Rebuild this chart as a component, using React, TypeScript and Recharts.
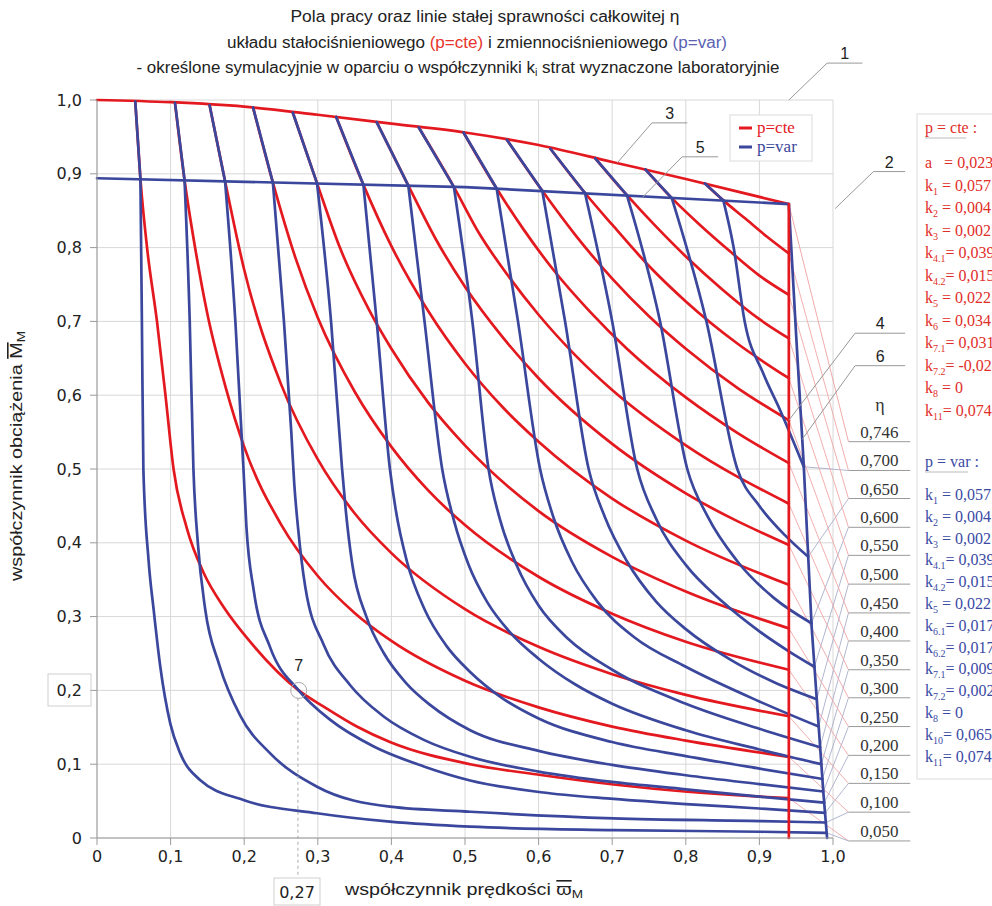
import React from 'react';
import { LineChart, Line, XAxis, YAxis, CartesianGrid, ReferenceLine, ReferenceDot } from 'recharts';

const W = 992;
const H = 906;
const RED = '#e3191f';
const BLUE = '#3a479c';
const SANS = "'Liberation Sans', Arial, sans-serif";
const TICKFONT = "'DejaVu Sans', Verdana, sans-serif";
const SERIF = "'Liberation Serif', 'Times New Roman', serif";

const axisTicks = [0, 0.1, 0.2, 0.3, 0.4, 0.5, 0.6, 0.7, 0.8, 0.9, 1];
const axisTickLabels = ['0', '0,1', '0,2', '0,3', '0,4', '0,5', '0,6', '0,7', '0,8', '0,9', '1,0'];

// efficiency labels on the right, top to bottom, and where their underline sits (in M units)
const etaLabels = ['0,746', '0,700', '0,650', '0,600', '0,550', '0,500', '0,450', '0,400', '0,350', '0,300', '0,250', '0,200', '0,150', '0,100', '0,050'];
const etaLabelPos = [0.537, 0.498, 0.46, 0.421, 0.383, 0.344, 0.305, 0.267, 0.228, 0.19, 0.151, 0.112, 0.074, 0.035, -0.004];

// boundaries of the working fields [omega, M]
const cteTop = [[0, 1.0], [0.1, 0.997], [0.2, 0.991], [0.3, 0.98], [0.4, 0.968], [0.5, 0.956], [0.6, 0.939], [0.7, 0.916], [0.8, 0.893], [0.94, 0.859]];
const cteRight = [[0.94, 0.859], [0.94, 0]];
const varTop = [[0, 0.894], [0.5, 0.882], [0.94, 0.859]];
const varRight = [[0.94, 0.859], [0.95, 0.68], [0.96, 0.51], [0.971, 0.286], [0.987, 0.06], [0.992, 0]];

// p=cte constant efficiency lines (0,05 ... 0,70)
const cte050 = [[0.052, 0.998], [0.059, 0.893], [0.068, 0.8], [0.0815, 0.7], [0.093, 0.6], [0.104, 0.5], [0.122, 0.42], [0.145, 0.359], [0.172, 0.313], [0.208, 0.266], [0.274, 0.2], [0.308, 0.178], [0.353, 0.151], [0.398, 0.13], [0.507, 0.1], [0.603, 0.0854], [0.702, 0.0725], [0.802, 0.0627], [0.901, 0.056], [0.94, 0.054]];
const cte100 = [[0.106, 0.996], [0.119, 0.891], [0.135, 0.79], [0.15, 0.71], [0.175, 0.61], [0.2, 0.53], [0.25, 0.425], [0.3, 0.355], [0.35, 0.305], [0.4, 0.267], [0.5, 0.213], [0.6, 0.177], [0.7, 0.151], [0.8, 0.132], [0.94, 0.11]];
const cte150 = [[0.153, 0.993], [0.174, 0.89], [0.2, 0.77], [0.25, 0.615], [0.3, 0.513], [0.35, 0.44], [0.4, 0.386], [0.5, 0.31], [0.6, 0.259], [0.7, 0.222], [0.8, 0.194], [0.94, 0.165]];
const cte200 = [[0.212, 0.99], [0.239, 0.888], [0.27, 0.785], [0.3, 0.705], [0.35, 0.605], [0.4, 0.53], [0.45, 0.471], [0.5, 0.424], [0.6, 0.354], [0.7, 0.304], [0.8, 0.266], [0.94, 0.228]];
const cte250 = [[0.266, 0.983], [0.299, 0.887], [0.33, 0.8], [0.37, 0.715], [0.4, 0.663], [0.45, 0.59], [0.5, 0.532], [0.6, 0.443], [0.7, 0.381], [0.8, 0.334], [0.94, 0.284]];
const cte300 = [[0.325, 0.977], [0.362, 0.885], [0.4, 0.802], [0.45, 0.714], [0.5, 0.643], [0.55, 0.585], [0.6, 0.537], [0.7, 0.46], [0.8, 0.403], [0.94, 0.343]];
const cte350 = [[0.38, 0.97], [0.423, 0.884], [0.46, 0.812], [0.5, 0.747], [0.55, 0.68], [0.6, 0.623], [0.7, 0.534], [0.8, 0.467], [0.94, 0.397]];
const cte400 = [[0.437, 0.963], [0.485, 0.882], [0.52, 0.818], [0.56, 0.76], [0.6, 0.709], [0.65, 0.654], [0.7, 0.607], [0.8, 0.532], [0.94, 0.453]];
const cte450 = [[0.498, 0.956], [0.543, 0.88], [0.58, 0.824], [0.62, 0.77], [0.67, 0.713], [0.72, 0.663], [0.8, 0.597], [0.87, 0.549], [0.94, 0.508]];
const cte500 = [[0.557, 0.946], [0.605, 0.877], [0.65, 0.817], [0.7, 0.758], [0.75, 0.707], [0.8, 0.663], [0.87, 0.61], [0.94, 0.566]];
const cte550 = [[0.616, 0.934], [0.663, 0.874], [0.7, 0.831], [0.75, 0.775], [0.8, 0.727], [0.87, 0.67], [0.94, 0.623]];
const cte600 = [[0.677, 0.921], [0.72, 0.871], [0.76, 0.828], [0.8, 0.788], [0.85, 0.743], [0.9, 0.703], [0.94, 0.677]];
const cte650 = [[0.745, 0.906], [0.781, 0.867], [0.82, 0.83], [0.86, 0.795], [0.9, 0.762], [0.94, 0.736]];
const cte700 = [[0.826, 0.887], [0.851, 0.864], [0.88, 0.84], [0.91, 0.815], [0.94, 0.792]];

// p=var constant efficiency lines (0,05 ... 0,70)
const var050 = [[0.052, 0.998], [0.059, 0.893], [0.061, 0.7], [0.063, 0.5], [0.07, 0.377], [0.077, 0.309], [0.086, 0.232], [0.0996, 0.155], [0.113, 0.115], [0.14, 0.0786], [0.199, 0.0515], [0.299, 0.0335], [0.398, 0.0221], [0.507, 0.0153], [0.702, 0.0108], [0.901, 0.0085], [0.9914, 0.007]];
const var100 = [[0.106, 0.996], [0.119, 0.891], [0.126, 0.7], [0.131, 0.5], [0.137, 0.4], [0.147, 0.31], [0.166, 0.235], [0.195, 0.165], [0.235, 0.115], [0.299, 0.0695], [0.398, 0.0424], [0.507, 0.0356], [0.702, 0.0267], [0.901, 0.023], [0.9903, 0.021]];
const var150 = [[0.153, 0.993], [0.174, 0.89], [0.188, 0.7], [0.199, 0.5], [0.203, 0.422], [0.213, 0.335], [0.235, 0.259], [0.274, 0.2], [0.317, 0.16], [0.376, 0.124], [0.444, 0.097], [0.507, 0.078], [0.603, 0.062], [0.702, 0.053], [0.8, 0.046], [0.9, 0.04], [0.9892, 0.034]];
const var200 = [[0.212, 0.99], [0.239, 0.888], [0.254, 0.7], [0.264, 0.55], [0.268, 0.48], [0.273, 0.422], [0.283, 0.34], [0.308, 0.262], [0.344, 0.207], [0.389, 0.165], [0.444, 0.133], [0.507, 0.11], [0.6, 0.09], [0.7, 0.076], [0.8, 0.066], [0.9, 0.056], [0.988, 0.048]];
const var250 = [[0.266, 0.983], [0.299, 0.887], [0.318, 0.7], [0.333, 0.5], [0.338, 0.444], [0.347, 0.37], [0.366, 0.3], [0.39, 0.25], [0.42, 0.21], [0.453, 0.18], [0.507, 0.146], [0.6, 0.118], [0.7, 0.099], [0.8, 0.085], [0.9, 0.073], [0.9868, 0.063]];
const var300 = [[0.325, 0.977], [0.362, 0.885], [0.38, 0.7], [0.398, 0.5], [0.406, 0.444], [0.421, 0.375], [0.445, 0.31], [0.475, 0.26], [0.507, 0.225], [0.55, 0.19], [0.6, 0.162], [0.7, 0.13], [0.8, 0.111], [0.9, 0.094], [0.9856, 0.08]];
const var350 = [[0.38, 0.97], [0.423, 0.884], [0.445, 0.7], [0.469, 0.5], [0.485, 0.43], [0.505, 0.37], [0.53, 0.32], [0.56, 0.28], [0.6, 0.243], [0.65, 0.208], [0.7, 0.182], [0.8, 0.146], [0.9, 0.12], [0.9842, 0.1]];
const var400 = [[0.437, 0.963], [0.485, 0.882], [0.51, 0.7], [0.532, 0.5], [0.548, 0.43], [0.57, 0.37], [0.6, 0.315], [0.64, 0.27], [0.7, 0.228], [0.8, 0.182], [0.9, 0.148], [0.9825, 0.123]];
const var450 = [[0.498, 0.956], [0.543, 0.88], [0.572, 0.7], [0.602, 0.5], [0.62, 0.435], [0.645, 0.375], [0.68, 0.32], [0.73, 0.272], [0.8, 0.232], [0.9, 0.185], [0.9806, 0.151]];
const var500 = [[0.557, 0.946], [0.605, 0.877], [0.636, 0.7], [0.668, 0.5], [0.69, 0.435], [0.72, 0.375], [0.76, 0.32], [0.8, 0.283], [0.86, 0.242], [0.92, 0.211], [0.9779, 0.188]];
const var550 = [[0.616, 0.934], [0.663, 0.874], [0.7, 0.7], [0.734, 0.5], [0.76, 0.432], [0.8, 0.37], [0.85, 0.32], [0.9, 0.28], [0.94, 0.253], [0.9748, 0.232]];
const var600 = [[0.677, 0.921], [0.72, 0.871], [0.765, 0.7], [0.802, 0.5], [0.83, 0.435], [0.87, 0.375], [0.92, 0.325], [0.9708, 0.291]];
const var650 = [[0.745, 0.906], [0.781, 0.867], [0.828, 0.7], [0.87, 0.5], [0.9, 0.45], [0.935, 0.41], [0.9663, 0.381]];
const var700 = [[0.826, 0.887], [0.851, 0.864], [0.865, 0.8], [0.88, 0.7], [0.905, 0.63], [0.928, 0.58], [0.9603, 0.503]];

const cteCurves = [cte050, cte100, cte150, cte200, cte250, cte300, cte350, cte400, cte450, cte500, cte550, cte600, cte650, cte700];
const varCurves = [var050, var100, var150, var200, var250, var300, var350, var400, var450, var500, var550, var600, var650, var700];

// numbered callouts: underline [x1, x2, y] and tip [x, y]
const callouts = [
  { n: '1', under: [0.992, 1.04, 1.05], tip: [0.94, 1.0] },
  { n: '2', under: [1.055, 1.098, 0.903], tip: [1.003, 0.853] },
  { n: '3', under: [0.754, 0.802, 0.969], tip: [0.707, 0.915] },
  { n: '5', under: [0.795, 0.844, 0.923], tip: [0.741, 0.868] },
  { n: '4', under: [1.03, 1.098, 0.684], tip: [0.94, 0.566] },
  { n: '6', under: [1.03, 1.098, 0.64], tip: [0.958, 0.54] },
];

// coefficient tables
const cteCoefNames = ['a', 'k|1', 'k|2', 'k|3', 'k|4.1', 'k|4.2', 'k|5', 'k|6', 'k|7.1', 'k|7.2', 'k|8', 'k|11'];
const cteCoefValues = ['0,023', '0,057', '0,004', '0,002', '0,039', '0,015', '0,022', '0,034', '0,031', '-0,02', '0', '0,074'];
const varCoefNames = ['k|1', 'k|2', 'k|3', 'k|4.1', 'k|4.2', 'k|5', 'k|6.1', 'k|6.2', 'k|7.1', 'k|7.2', 'k|8', 'k|10', 'k|11'];
const varCoefValues = ['0,057', '0,004', '0,002', '0,039', '0,015', '0,022', '0,017', '0,017', '0,009', '0,002', '0', '0,065', '0,074'];

const pts = (a: number[][]) => a.map(([x, y]) => ({ x, y }));
const fmt = (v: number) => axisTickLabels[Math.round(v * 10)] ?? '';

const curveLine = (d: number[][], color: string, key: string, type: 'monotone' | 'linear' = 'monotone') => (
  <Line
    key={key}
    data={pts(d)}
    dataKey="y"
    type={type}
    stroke={color}
    strokeWidth={2.7}
    strokeLinejoin="round"
    strokeLinecap="round"
    dot={false}
    activeDot={false}
    isAnimationActive={false}
  />
);

const coefRow = (name: string, value: string, x: number, y: number, color: string, key: string) => {
  const [base, sub] = name.split('|');
  return (
    <text key={key} x={x} y={y} fontFamily={SERIF} fontSize={16} fill={color} style={{ whiteSpace: 'pre' }}>
      {base}
      {sub ? <tspan fontSize={10} dy={4}>{sub}</tspan> : null}
      {sub ? <tspan dy={-4}>{sub.length > 1 ? '= ' + value : ' = ' + value}</tspan> : <tspan>{'   = ' + value}</tspan>}
    </text>
  );
};

export default function App() {
  const leaders = etaLabels.flatMap((lab, i) => {
    const pos = etaLabelPos[i];
    const out = [
      <ReferenceLine
        key={'u' + i}
        segment={[{ x: 1.021, y: pos }, { x: 1.105, y: pos }]}
        ifOverflow="visible"
        stroke="#9a9a9a"
        strokeWidth={1}
        label={{ value: lab, position: 'top', offset: 4, fill: '#333', fontSize: 17, fontFamily: SERIF }}
      />,
    ];
    if (i === 0) {
      const c = cteTop[cteTop.length - 1];
      out.push(<ReferenceLine key={'c' + i} segment={[{ x: 1.021, y: pos }, { x: c[0], y: c[1] }]} ifOverflow="visible" stroke="#f0a0a0" strokeWidth={0.9} />);
    } else {
      const idx = cteCurves.length - i;
      const rc = cteCurves[idx][cteCurves[idx].length - 1];
      const bc = varCurves[idx][varCurves[idx].length - 1];
      out.push(<ReferenceLine key={'r' + i} segment={[{ x: 1.021, y: pos }, { x: rc[0], y: rc[1] }]} ifOverflow="visible" stroke="#f2a6a6" strokeWidth={0.9} />);
      out.push(<ReferenceLine key={'b' + i} segment={[{ x: 1.021, y: pos }, { x: bc[0], y: bc[1] }]} ifOverflow="visible" stroke="#a9aecb" strokeWidth={0.9} />);
    }
    return out;
  });

  const calloutLines = callouts.flatMap((c) => [
    <ReferenceLine
      key={'cu' + c.n}
      segment={[{ x: c.under[0], y: c.under[2] }, { x: c.under[1], y: c.under[2] }]}
      ifOverflow="visible"
      stroke="#999"
      strokeWidth={1}
      label={{ value: c.n, position: 'top', offset: 4, fill: '#222', fontSize: 16, fontFamily: SANS }}
    />,
    <ReferenceLine
      key={'ct' + c.n}
      segment={[{ x: c.under[0], y: c.under[2] }, { x: c.tip[0], y: c.tip[1] }]}
      ifOverflow="visible"
      stroke="#999"
      strokeWidth={1}
    />,
  ]);

  return (
    <div style={{ position: 'absolute', left: 0, top: 0, width: W, height: H, background: '#fff', overflow: 'hidden' }}>
      <LineChart width={W} height={H} margin={{ top: 100, right: 159, bottom: 38, left: 37 }}>
        <CartesianGrid stroke="#d8d8d8" strokeWidth={1} />
        <XAxis
          type="number"
          dataKey="x"
          domain={[0, 1]}
          ticks={axisTicks}
          tickFormatter={fmt}
          height={30}
          tickSize={7}
          tickMargin={6}
          stroke="#9a9a9a"
          tick={{ fill: '#222', fontSize: 16, fontFamily: TICKFONT }}
        />
        <YAxis
          type="number"
          domain={[0, 1]}
          ticks={axisTicks}
          tickFormatter={fmt}
          width={60}
          tickSize={7}
          tickMargin={8}
          stroke="#9a9a9a"
          tick={{ fill: '#222', fontSize: 16, fontFamily: TICKFONT }}
        />
        {leaders}
        {cteCurves.map((c, i) => curveLine(c, RED, 'cte' + i))}
        {curveLine(cteTop, RED, 'cteTop')}
        {varCurves.map((c, i) => curveLine(c.slice(0, 2), BLUE, 'varA' + i, 'linear'))}
        {varCurves.map((c, i) => curveLine(c.slice(1), BLUE, 'varB' + i))}
        {curveLine(varTop, BLUE, 'varTop', 'linear')}
        {curveLine(varRight, BLUE, 'varRight', 'linear')}
        {curveLine(cteRight, RED, 'cteRight', 'linear')}
        {calloutLines}
        <ReferenceLine
          segment={[{ x: 0.273, y: 0.19 }, { x: 0.273, y: -0.054 }]}
          ifOverflow="visible"
          stroke="#aaa"
          strokeDasharray="3 3"
          strokeWidth={1}
        />
        <ReferenceDot
          x={0.274}
          y={0.2}
          r={8}
          fill="none"
          stroke="#aaa"
          strokeWidth={1}
          ifOverflow="visible"
          label={{ value: '7', position: 'top', offset: 11, fill: '#222', fontSize: 16, fontFamily: SANS }}
        />
      </LineChart>

      <svg width={W} height={H} style={{ position: 'absolute', left: 0, top: 0, pointerEvents: 'none' }}>
        <g fontFamily={SANS} fontSize={16} fill="#222" style={{ whiteSpace: 'pre' }}>
          <text x={485} y={22} textAnchor="middle" textLength={389} lengthAdjust="spacingAndGlyphs">Pola pracy oraz linie stałej sprawności całkowitej η</text>
          <text x={477} y={48} textAnchor="middle" textLength={500} lengthAdjust="spacingAndGlyphs">
            {'układu stałociśnieniowego '}
            <tspan fill="#e8342c">(p=cte)</tspan>
            {' i  zmiennociśnieniowego '}
            <tspan fill="#5b62b3">(p=var)</tspan>
          </text>
          <text x={458} y={73} textAnchor="middle" textLength={643} lengthAdjust="spacingAndGlyphs">
            {'- określone symulacyjnie w oparciu o współczynniki k'}
            <tspan fontSize={10} dy={3}>i</tspan>
            <tspan dy={-3}>{' strat wyznaczone laboratoryjnie'}</tspan>
          </text>
          <text x={22} y={456} fontSize={16} textAnchor="middle" transform="rotate(-90 22 456)" textLength={250} lengthAdjust="spacingAndGlyphs">
            {'współczynnik obciążenia '}
            <tspan style={{ textDecoration: 'overline' }}>M</tspan>
            <tspan fontSize={11} dy={3}>M</tspan>
          </text>
          <text x={345} y={895} fontSize={16} textLength={238} lengthAdjust="spacingAndGlyphs">
            {'współczynnik prędkości '}
            <tspan style={{ textDecoration: 'overline' }}>ϖ</tspan>
            <tspan fontSize={11} dy={3}>M</tspan>
          </text>
          <rect x={48} y={674} width={43} height={32} fill="none" stroke="#cfcfcf" />
          <rect x={274} y={878} width={46} height={27} fill="#fff" stroke="#cfcfcf" />
          <text x={297} y={898} textAnchor="middle" fontFamily={TICKFONT} fontSize={16}>0,27</text>
        </g>

        <text x={880} y={411} textAnchor="middle" fontFamily={SERIF} fontSize={18} fill="#333">η</text>

        <g>
          <rect x={730} y={115} width={82} height={46} fill="#fff" stroke="#dcdcdc" />
          <line x1={739} x2={752} y1={128} y2={128} stroke={RED} strokeWidth={3} />
          <text x={757} y={133} fontFamily={SERIF} fontSize={17} fill={RED}>p=cte</text>
          <line x1={739} x2={752} y1={147} y2={147} stroke={BLUE} strokeWidth={3} />
          <text x={757} y={152} fontFamily={SERIF} fontSize={17} fill={BLUE}>p=var</text>
        </g>

        <g>
          <rect x={917} y={114} width={90} height={665} fill="#fff" stroke="#dcdcdc" />
          <text x={925} y={133} fontFamily={SERIF} fontSize={16} fill="#df2e28" style={{ whiteSpace: 'pre' }}>p = cte :</text>
          <line x1={925} x2={966} y1={138} y2={138} stroke="#bbb" strokeWidth={1} />
          {cteCoefNames.map((n, i) => coefRow(n, cteCoefValues[i], 925, 168 + 22.5 * i, '#df2e28', 'cc' + i))}
          <text x={925} y={467} fontFamily={SERIF} fontSize={16} fill="#3a4aa5" style={{ whiteSpace: 'pre' }}>p = var :</text>
          <line x1={925} x2={968} y1={472} y2={472} stroke="#bbb" strokeWidth={1} />
          {varCoefNames.map((n, i) => coefRow(n, varCoefValues[i], 925, 500 + 21.8 * i, '#3a4aa5', 'vc' + i))}
        </g>
      </svg>
    </div>
  );
}
